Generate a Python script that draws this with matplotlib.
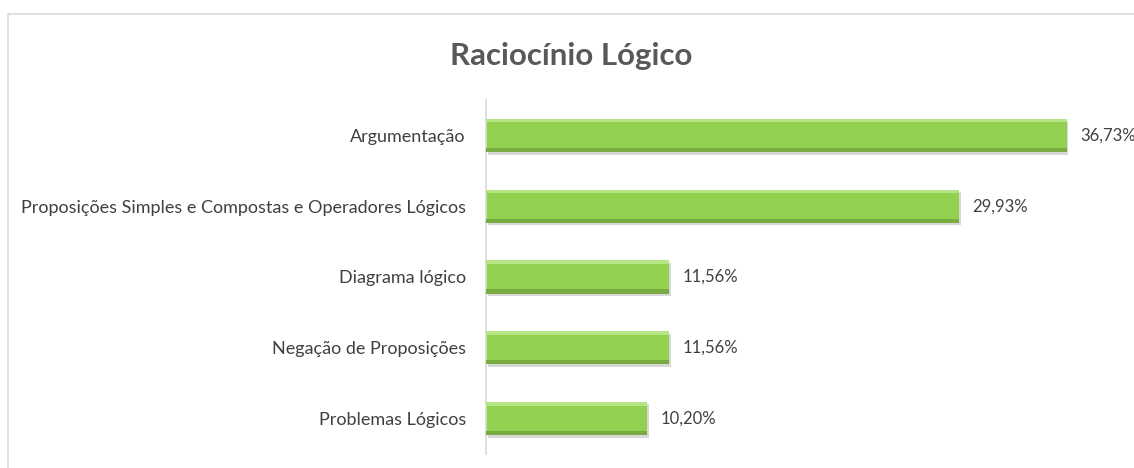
import matplotlib.pyplot as plt
from matplotlib.patches import Rectangle

# data (top to bottom)
categorias = ['Argumentação',
              'Proposições Simples e Compostas e Operadores Lógicos',
              'Diagrama lógico',
              'Negação de Proposições',
              'Problemas Lógicos']
valores = [36.73, 29.93, 11.56, 11.56, 10.20]
rotulos = ['36,73%', '29,93%', '11,56%', '11,56%', '10,20%']

plt.rcParams['font.family'] = ['Lato', 'DejaVu Sans']

fig = plt.figure(figsize=(11.34, 4.68), dpi=100)
W, H = 1134, 468

# light chart border
fig.patches.append(Rectangle((8 / W, -0.1), 1.2, 1.1 - 14 / H, transform=fig.transFigure,
                             fill=False, edgecolor='#d9d9d9', linewidth=1.2))

ax = fig.add_axes([486 / W, (H - 454) / H, 648 / W, 354 / H])

y = list(range(len(valores)))[::-1]
h = 0.47

# shadow
ax.barh([v - 0.035 for v in y], valores, height=h, left=0.12, color='#7f7f7f', alpha=0.3, zorder=1)
# main bar
ax.barh(y, valores, height=h, color='#92D050', zorder=2)
# bevel highlight / dark edges
ax.barh([v + h / 2 - 0.025 for v in y], valores, height=0.05, color='#b5e585', zorder=3)
ax.barh([v - h / 2 + 0.03 for v in y], valores, height=0.06, color='#78ab40', zorder=3)

for yi, v, t in zip(y, valores, rotulos):
    ax.text(v + 0.85, yi, t, va='center', ha='left', fontsize=12, color='#404040')

ax.set_xlim(0, 41)
ax.set_ylim(-0.5, len(valores) - 0.5)
ax.set_yticks(y)
ax.set_yticklabels(categorias, fontsize=13, color='#404040')
ax.tick_params(axis='y', length=0, pad=14.5)
ax.set_xticks([])
for s in ['top', 'right', 'bottom']:
    ax.spines[s].set_visible(False)
ax.spines['left'].set_color('#d9d9d9')
ax.spines['left'].set_linewidth(1.2)

fig.text(571 / W, 1 - 56 / H, 'Raciocínio Lógico', ha='center', va='center',
         fontsize=22.5, fontweight='bold', color='#595959')

fig.savefig('out.png', dpi=100)
